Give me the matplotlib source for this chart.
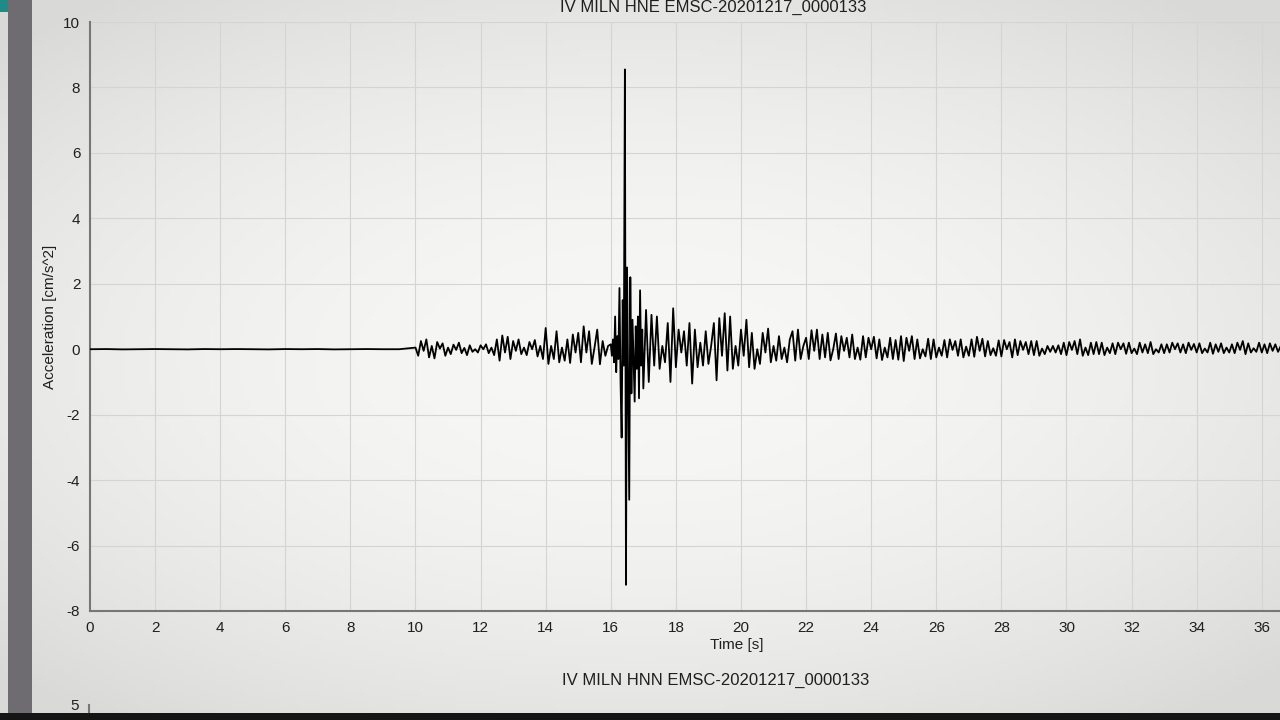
import numpy
from matplotlib import pyplot as plt
import matplotlib

matplotlib.rcParams['font.family'] = ['Liberation Sans', 'DejaVu Sans']
matplotlib.rcParams['font.size'] = 11
matplotlib.rcParams['axes.unicode_minus'] = False

# station / record
str_title_top = "IV MILN HNE EMSC-20201217_0000133"
str_title_next = "IV MILN HNN EMSC-20201217_0000133"

# pre-event noise, 0 - 10 s, one value every 0.5 s (cm/s^2)
float_dt_pre = 0.5
array_pre = numpy.array([
    0.0, 0.005, -0.005, 0.0, 0.005, 0.0, -0.005, 0.005, 0.0, 0.005,
    0.0, -0.005, 0.005, 0.0, 0.005, -0.005, 0.0, 0.005, 0.0, 0.0,
])

# early coda 10 - 16 s, 12 values per second
float_dt_coda = 1.0 / 12.0
list_coda1 = [
    [0.05, -0.2, 0.25, -0.05, 0.3, -0.25, 0.1, -0.28, 0.22, 0.02, 0.18, -0.2],
    [0.05, -0.15, 0.14, -0.02, 0.2, -0.12, 0.04, -0.18, 0.12, -0.08, 0.0, -0.1],
    [0.12, 0.0, 0.15, -0.12, 0.05, -0.18, 0.3, -0.35, 0.42, -0.1, 0.38, -0.3],
    [0.25, -0.05, 0.3, -0.15, 0.05, -0.18, 0.22, 0.0, 0.28, -0.22, 0.1, -0.3],
    [0.65, -0.45, 0.1, -0.3, 0.55, -0.4, 0.05, -0.35, 0.3, -0.42, 0.45, -0.1],
    [0.5, -0.4, 0.7, -0.1, 0.55, -0.45, 0.05, 0.6, -0.46, 0.25, -0.2, 0.1],
]

# main burst 16 - 17 s, 30 values per second
float_dt_burst = 1.0 / 30.0
array_burst = numpy.array([
    0.15, -0.2, 0.3, -0.4, 1.0, -0.7, 0.4, -0.3, 1.87, -1.0,
    -2.7, 1.5, -0.5, 8.55, -7.2, 2.5, -1.0, -4.6, 2.2, -1.35,
    0.9, -0.4, -1.6, 0.7, -0.6, 1.0, -1.5, 1.8, -0.5, 0.6,
])

# late coda 17 - 36.67 s, 12 values per second
list_coda2 = [
    [-1.2, 1.2, -1.0, 1.05, -0.5, 1.0, -0.6, 0.1, -0.4, 0.8, -1.0, 1.25],
    [-0.55, 0.6, -0.1, 0.55, -0.5, 0.8, -1.05, 0.6, -0.55, 0.2, -0.5, 0.55],
    [-0.45, 0.1, 0.8, -0.95, 0.95, -0.2, 1.1, -0.65, 1.0, -0.6, 0.1, -0.5],
    [0.6, -0.2, 0.9, -0.55, 0.5, -0.6, 0.0, -0.45, 0.5, -0.1, 0.63, -0.4],
    [0.1, -0.35, 0.4, -0.3, 0.05, -0.4, 0.3, 0.55, -0.35, 0.6, -0.3, 0.1],
    [0.35, -0.3, 0.58, -0.05, 0.6, -0.3, 0.45, -0.25, 0.5, -0.34, 0.0, 0.48],
    [-0.3, 0.4, -0.05, 0.35, -0.25, 0.45, -0.3, 0.05, -0.32, 0.4, -0.25, 0.35],
    [0.0, 0.38, -0.28, 0.3, -0.33, 0.05, -0.25, 0.35, -0.3, 0.28, -0.32, 0.4],
    [-0.36, 0.35, -0.05, 0.4, -0.3, 0.3, -0.28, 0.0, -0.22, 0.32, -0.3, 0.3],
    [-0.25, 0.05, -0.2, 0.28, -0.25, 0.3, -0.02, 0.25, -0.2, 0.3, -0.25, 0.08],
    [-0.2, 0.3, -0.23, 0.38, -0.05, 0.32, -0.22, 0.25, -0.18, 0.03, -0.2, 0.27],
    [-0.22, 0.28, 0.0, 0.22, -0.25, 0.3, -0.18, 0.25, -0.02, 0.22, -0.15, 0.25],
    [-0.18, 0.25, -0.2, 0.02, -0.15, 0.1, -0.08, 0.1, -0.1, 0.12, -0.15, 0.2],
    [-0.18, 0.22, -0.02, 0.25, -0.15, 0.3, -0.2, 0.05, -0.18, 0.2, -0.15, 0.22],
    [-0.15, 0.2, -0.18, 0.05, -0.12, 0.18, -0.15, 0.2, 0.0, 0.18, -0.14, 0.2],
    [-0.12, 0.02, -0.15, 0.2, -0.1, 0.15, -0.12, 0.22, -0.15, 0.0, -0.1, 0.15],
    [-0.12, 0.15, -0.1, 0.2, 0.0, 0.18, -0.1, 0.15, -0.12, 0.2, -0.02, 0.16],
    [-0.1, 0.18, -0.12, 0.02, -0.1, 0.2, -0.14, 0.15, -0.08, 0.18, -0.12, 0.05],
    [-0.1, 0.15, -0.12, 0.2, -0.02, 0.25, -0.15, 0.18, -0.1, 0.03, -0.08, 0.2],
    [-0.1, 0.15, -0.12, 0.18, -0.05, 0.15, -0.08, 0.1],
]

# assemble trace
array_coda1 = numpy.concatenate([numpy.array(r) for r in list_coda1])
array_coda2 = numpy.concatenate([numpy.array(r) for r in list_coda2])
t_pre = numpy.arange(len(array_pre)) * float_dt_pre
t_coda1 = 10.0 + numpy.arange(len(array_coda1)) * float_dt_coda
t_burst = 16.0 + numpy.arange(len(array_burst)) * float_dt_burst
t_coda2 = 17.0 + numpy.arange(len(array_coda2)) * float_dt_coda
array_t = numpy.concatenate([t_pre, t_coda1, t_burst, t_coda2])
array_acc = numpy.concatenate([array_pre, array_coda1, array_burst, array_coda2])

fig = plt.figure(figsize=(12.8, 7.2), dpi=100)
fig.patch.set_facecolor('#e4e5e3')

# photo of a screen: brighter middle, greyer edges
ax_bg = fig.add_axes([0, 0, 1, 1], zorder=-10)
gx, gy = numpy.meshgrid(numpy.linspace(-1, 1, 256), numpy.linspace(-1, 1, 144))
shade = 247 - 30 * numpy.clip((gx * 0.9) ** 2 + (gy * 1.0) ** 2, 0, 1.6) / 1.6
ax_bg.imshow(numpy.dstack([shade, shade + 1, shade - 1]).clip(0, 255).astype('uint8'),
             extent=[0, 1, 0, 1], aspect='auto')
ax_bg.axis('off')

str_text = '#1f1f1f'
str_grid = '#d4d5d3'
str_spine = '#777777'

ax = fig.add_axes([90 / 1280, 1 - 611 / 720, 1 - 90 / 1280, (611 - 22) / 720])
ax.set_facecolor('none')
ax.plot(array_t, array_acc, color='black', linewidth=1.3, zorder=3)
ax.set_xlim(0, 36.56)
ax.set_ylim(-8, 10)
ax.set_xticks(numpy.arange(0, 37, 2))
ax.set_yticks(numpy.arange(-8, 11, 2))
ax.grid(True, color=str_grid, linewidth=0.8)
for s in ['top', 'right']:
    ax.spines[s].set_visible(False)
for s in ['left', 'bottom']:
    ax.spines[s].set_color(str_spine)
    ax.spines[s].set_linewidth(1.5)
ax.tick_params(axis='both', length=0, colors=str_text, labelsize=11)
ax.tick_params(axis='x', pad=7)
ax.tick_params(axis='y', pad=7)
ax.set_xlabel('Time [s]', color=str_text, fontsize=11)
ax.set_ylabel('Acceleration [cm/s^2]', color=str_text, fontsize=11)
ax.xaxis.set_label_coords((737 - 90) / 1190, (611 - 638) / 589)
ax.yaxis.set_label_coords((57 - 90) / 1190, (611 - 317) / 589)

fig.text(713 / 1280, 1.0, str_title_top, ha='center', va='top',
         color=str_text, fontsize=12)
fig.text(716 / 1280, 1 - 680 / 720, str_title_next, ha='center', va='center',
         color=str_text, fontsize=12)

# next panel, only its top edge shows
ax2 = fig.add_axes([89 / 1280, -0.5, 1 - 89 / 1280, 0.5 + 15 / 720])
ax2.set_facecolor('none')
ax2.set_xlim(0, 36.56)
ax2.set_ylim(-5, 5)
ax2.set_yticks([5])
ax2.set_xticks([])
ax2.tick_params(axis='y', length=0, colors=str_text, labelsize=11, pad=7)
for s in ['top', 'right', 'bottom']:
    ax2.spines[s].set_visible(False)
ax2.spines['left'].set_color(str_spine)
ax2.spines['left'].set_linewidth(1.5)

# screen frame seen in the photo
fig.patches.append(matplotlib.patches.Rectangle(
    (8 / 1280, 0), 24 / 1280, 1, transform=fig.transFigure,
    facecolor='#6e6b71', edgecolor='none', zorder=5))
fig.patches.append(matplotlib.patches.Rectangle(
    (0, 1 - 12 / 720), 8 / 1280, 12 / 720, transform=fig.transFigure,
    facecolor='#1f8a86', edgecolor='none', zorder=5))
fig.patches.append(matplotlib.patches.Rectangle(
    (0, 0), 1, 7 / 720, transform=fig.transFigure,
    facecolor='#151515', edgecolor='none', zorder=5))

plt.savefig('out.png', dpi=100)
